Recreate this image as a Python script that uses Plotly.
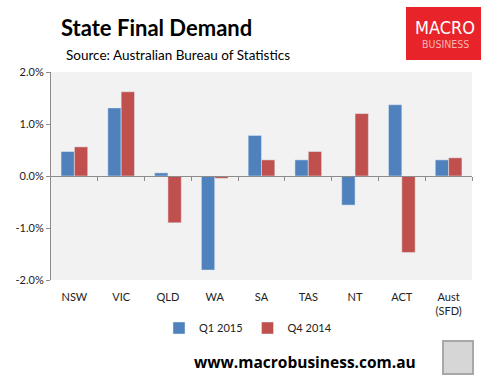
import plotly.graph_objects as go

categories = ["NSW", "VIC", "QLD", "WA", "SA", "TAS", "NT", "ACT", "Aust<br>(SFD)"]
q1_2015 = [0.47, 1.31, 0.06, -1.81, 0.78, 0.31, -0.56, 1.37, 0.31]
q4_2014 = [0.56, 1.62, -0.90, -0.045, 0.31, 0.47, 1.20, -1.47, 0.35]
ytick_vals = [-2, -1, 0, 1, 2]
ytick_text = ["-2.0%", "-1.0%", "0.0%", "1.0%", "2.0%"]

BLUE = "#4F81BD"
RED = "#C0504D"
FONT = "Lato, 'Open Sans', sans-serif"
W, H = 486, 387
L, R, T, B = 51, 14, 72, 107
PW, PH = W - L - R, H - T - B


def px(x):
    return (x - L) / PW


def py(y):
    return (H - B - y) / PH


fig = go.Figure()
fig.add_trace(go.Bar(name="Q1 2015", x=categories, y=q1_2015, marker_color=BLUE))
fig.add_trace(go.Bar(name="Q4 2014", x=categories, y=q4_2014, marker_color=RED))
# invisible trace to drive the zero-line axis with boundary ticks
fig.add_trace(go.Scatter(x=[-0.5, len(categories) - 0.5], y=[0, 0], xaxis="x2",
                         mode="lines", line=dict(width=0), showlegend=False,
                         hoverinfo="skip"))

fig.update_layout(
    width=W, height=H,
    margin=dict(l=L, r=R, t=T, b=B, autoexpand=False),
    paper_bgcolor="white", plot_bgcolor="#F2F2F2",
    barmode="group", bargap=0.43, bargroupgap=0,
    font=dict(family=FONT, size=11, color="#222"),
    showlegend=True,
    legend=dict(orientation="h", x=px(248), xanchor="center", y=py(328), yanchor="middle",
                font=dict(size=11, color="#222"), itemwidth=30, tracegroupgap=0),
    xaxis=dict(type="category", showline=False, ticks="", showgrid=False,
               tickfont=dict(size=11, color="#222"), ticklabelstandoff=9),
    xaxis2=dict(overlaying="x", anchor="free", position=0.5, range=[-0.5, len(categories) - 0.5],
                showline=True, linecolor="#8C8C8C", linewidth=1,
                ticks="outside", ticklen=4, tickcolor="#8C8C8C",
                tickvals=[i + 0.5 for i in range(len(categories))],
                showticklabels=False, showgrid=False, zeroline=False),
    yaxis=dict(range=[-2, 2], tickvals=ytick_vals, ticktext=ytick_text,
               showline=True, linecolor="#8C8C8C", linewidth=1,
               ticks="outside", ticklen=4, tickcolor="#8C8C8C",
               showgrid=False, zeroline=False, tickfont=dict(size=11, color="#222")),
)

fig.add_annotation(text="<b>State Final Demand</b>", xref="paper", yref="paper",
                   x=px(59), y=py(27), xanchor="left", yanchor="middle",
                   showarrow=False, font=dict(size=22, color="black", family=FONT))
fig.add_annotation(text="Source: Australian Bureau of Statistics", xref="paper", yref="paper",
                   x=px(64), y=py(55), xanchor="left", yanchor="middle",
                   showarrow=False, font=dict(size=13.5, color="black", family=FONT))
# logo
fig.add_shape(type="rect", xref="paper", yref="paper",
              x0=px(406), x1=px(481), y0=py(60), y1=py(7),
              fillcolor="#E8232A", line=dict(width=0))
fig.add_annotation(text="MACRO", xref="paper", yref="paper",
                   x=px(445), y=py(27), xanchor="center", yanchor="middle",
                   showarrow=False,
                   font=dict(size=18, color="white",
                             family="'Liberation Sans Narrow', 'DejaVu Sans Condensed', sans-serif"))
fig.add_annotation(text="BUSINESS", xref="paper", yref="paper",
                   x=px(445), y=py(44), xanchor="center", yanchor="middle",
                   showarrow=False,
                   font=dict(size=10.5, color="#F7B5B5",
                             family="'Liberation Sans Narrow', 'DejaVu Sans Condensed', sans-serif"))
fig.add_annotation(text="<b>www.macrobusiness.com.au</b>", xref="paper", yref="paper",
                   x=px(305), y=py(362), xanchor="center", yanchor="middle",
                   showarrow=False, font=dict(size=15.5, color="black", family="'Open Sans', sans-serif"))
fig.add_shape(type="rect", xref="paper", yref="paper",
              x0=px(443), x1=px(473), y0=py(374), y1=py(341),
              fillcolor="#D6D6D6", line=dict(width=2, color="#A8A8A8"))

fig.write_html("out.html", config={"displayModeBar": False},
               post_script="document.body.style.margin='0px';")
